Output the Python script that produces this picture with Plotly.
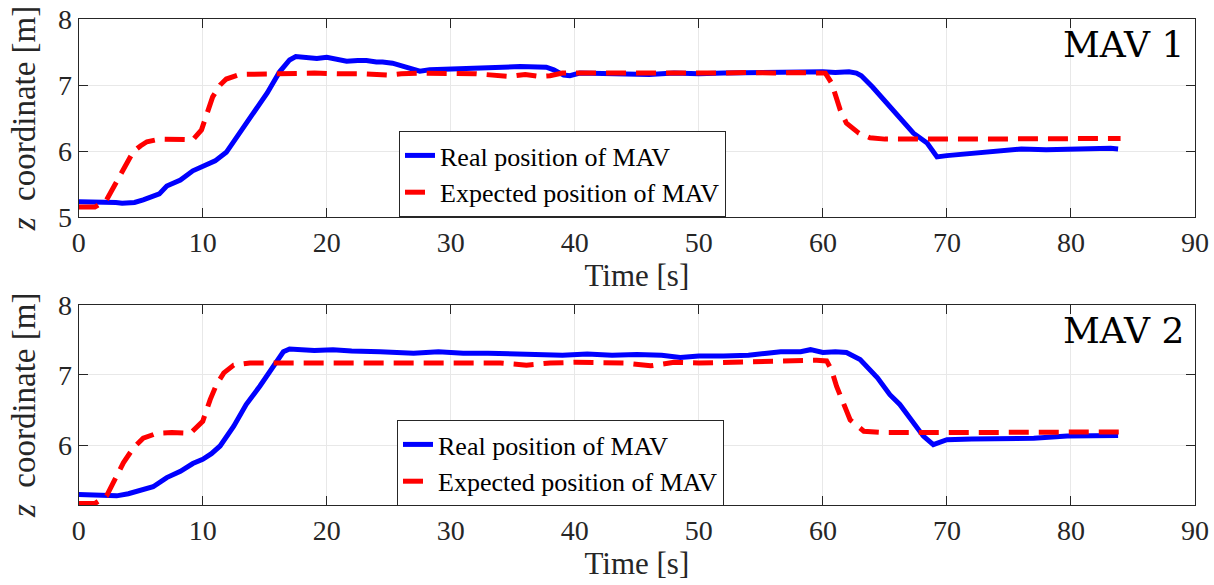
import plotly.graph_objects as go

# ---- MAV 1 ----
t_real_1 = [0, 1, 2, 3, 3.5, 4.5, 5.2, 6, 6.5, 7.1, 7.6, 8.2, 9.2, 10.3, 11, 11.9, 13, 14.1,
            15.2, 16.2, 17, 17.5, 18.4, 19.2, 20, 21, 21.6, 22.5, 23.2, 24, 24.5, 25.3, 26,
            26.7, 27.5, 28.3, 29.5, 30.5, 32.4, 34, 35.6, 37.7, 38.3, 39.1, 39.6, 40.4, 42,
            44, 46, 48, 50, 52, 54.4, 56, 58, 59, 60, 61, 61.6, 62.1, 62.7, 63.1, 64, 65.4,
            66.2, 67.3, 68.4, 69.2, 70, 71.6, 73, 74.8, 76, 78, 80, 82, 83.2, 83.8]
z_real_1 = [5.23, 5.23, 5.23, 5.22, 5.21, 5.22, 5.26, 5.31, 5.35, 5.47, 5.51, 5.56, 5.70, 5.79,
            5.85, 5.98, 6.27, 6.57, 6.88, 7.20, 7.38, 7.43, 7.41, 7.40, 7.42, 7.39, 7.36, 7.37,
            7.37, 7.35, 7.35, 7.33, 7.29, 7.24, 7.21, 7.23, 7.24, 7.25, 7.27, 7.27, 7.28, 7.27,
            7.23, 7.15, 7.14, 7.18, 7.17, 7.17, 7.16, 7.18, 7.17, 7.18, 7.19, 7.18, 7.19, 7.20,
            7.20, 7.19, 7.19, 7.20, 7.18, 7.14, 6.97, 6.67, 6.52, 6.27, 6.12, 5.91, 5.93, 5.96,
            5.99, 6.02, 6.03, 6.02, 6.03, 6.03, 6.04, 6.03]
t_exp_1 = [0, 1.3, 2.25, 3.06, 3.87, 4.4, 5.0, 5.5, 6.5, 7.5, 8.5, 9.2, 9.9, 10.3, 10.8, 11.4,
           11.9, 13, 15, 17, 19, 21, 23, 25, 26, 28, 30, 32, 34.8, 36, 37.2, 38, 39, 40, 42,
           44, 46, 48, 50, 52, 54, 56, 58, 60.2, 60.7, 61.4, 61.9, 62.9, 63.8, 65, 70, 75,
           80, 84]
z_exp_1 = [5.15, 5.15, 5.26, 5.53, 5.82, 5.99, 6.08, 6.14, 6.18, 6.18, 6.17, 6.17, 6.32, 6.57,
           6.82, 7.00, 7.09, 7.16, 7.17, 7.17, 7.18, 7.17, 7.17, 7.15, 7.17, 7.18, 7.18, 7.17,
           7.13, 7.16, 7.13, 7.14, 7.18, 7.18, 7.17, 7.17, 7.17, 7.17, 7.18, 7.18, 7.19, 7.18,
           7.19, 7.18, 7.03, 6.62, 6.42, 6.27, 6.20, 6.18, 6.18, 6.18, 6.18, 6.19]

# ---- MAV 2 ----
t_real_2 = [0, 1.5, 3.06, 4, 4.9, 6, 7.1, 8.2, 9.2, 10, 10.7, 11.4, 12.5, 13.5, 14.6, 15.7,
            16.5, 17, 18, 19, 20.5, 22, 24.3, 25.9, 27, 29, 31, 33, 35, 37.7, 39, 41, 43, 45,
            47, 48.5, 50, 52, 54, 55.5, 56.6, 58.2, 59, 60, 61, 61.9, 63, 64.4, 65.4, 66.2,
            67.3, 68.1, 68.9, 69.5, 70, 72, 74.3, 77, 79.7, 82, 83.8]
z_real_2 = [5.30, 5.29, 5.28, 5.31, 5.35, 5.41, 5.54, 5.63, 5.74, 5.80, 5.88, 5.99, 6.27, 6.58,
            6.84, 7.14, 7.33, 7.37, 7.36, 7.35, 7.36, 7.34, 7.33, 7.32, 7.31, 7.33, 7.31, 7.31,
            7.30, 7.29, 7.28, 7.30, 7.28, 7.29, 7.28, 7.25, 7.27, 7.27, 7.28, 7.31, 7.33, 7.33,
            7.36, 7.32, 7.33, 7.32, 7.22, 6.96, 6.72, 6.58, 6.32, 6.13, 6.01, 6.05, 6.08, 6.09,
            6.09, 6.10, 6.13, 6.13, 6.14]
t_exp_2 = [0, 1.3, 2.25, 2.8, 3.6, 4.4, 5.2, 6.3, 7.5, 9.0, 10, 10.6, 11.1, 11.7, 12.5, 13.8,
           16, 18, 20, 22, 24, 26, 28, 30, 32, 34, 36.1, 38, 40, 42, 44, 46.1, 48, 50, 52, 54,
           56, 58, 59.5, 60.3, 60.7, 61.1, 61.7, 62.2, 63.3, 65, 70, 75, 80, 84]
z_exp_2 = [5.17, 5.17, 5.28, 5.47, 5.75, 5.96, 6.10, 6.17, 6.18, 6.17, 6.34, 6.65, 6.86, 7.03,
           7.14, 7.17, 7.17, 7.18, 7.17, 7.18, 7.17, 7.18, 7.18, 7.17, 7.18, 7.17, 7.14, 7.17,
           7.18, 7.17, 7.17, 7.13, 7.18, 7.17, 7.18, 7.18, 7.19, 7.20, 7.21, 7.20, 7.07, 6.84,
           6.55, 6.36, 6.20, 6.18, 6.18, 6.18, 6.18, 6.19]

x_ticks = [0, 10, 20, 30, 40, 50, 60, 70, 80, 90]
y_ticks = [5, 6, 7, 8]
panel_labels = ["MAV 1", "MAV 2"]
names = ["Real position of MAV", "Expected position of MAV"]

SERIF = "Liberation Serif"
AX_COLOR = "#262626"
GRID = "#e8e8e8"
W, H = 1214, 585

fig = go.Figure()

panels = [
    (t_real_1, z_real_1, t_exp_1, z_exp_1, "x", "y", "legend"),
    (t_real_2, z_real_2, t_exp_2, z_exp_2, "x2", "y2", "legend2"),
]
for tr, zr, te, ze, xa, ya, lg in panels:
    fig.add_trace(go.Scatter(x=tr, y=zr, mode="lines", name=names[0],
                             line=dict(color="#0000ff", width=5),
                             xaxis=xa, yaxis=ya, legend=lg))
    fig.add_trace(go.Scatter(x=te, y=ze, mode="lines", name=names[1],
                             line=dict(color="#ff0000", width=5, dash="20px,10px"),
                             xaxis=xa, yaxis=ya, legend=lg))

x_dom = [78.7 / W, 1195 / W]
common_x = dict(range=[0, 90], tickvals=x_ticks, showgrid=True, gridcolor=GRID, gridwidth=1,
                showline=True, linecolor=AX_COLOR, linewidth=1, mirror="ticks",
                ticks="inside", ticklen=9, tickcolor=AX_COLOR, zeroline=False,
                automargin=False,
                tickfont=dict(family=SERIF, size=28, color=AX_COLOR),
                title=dict(text="Time [s]", font=dict(family=SERIF, size=31, color=AX_COLOR),
                           standoff=6),
                domain=x_dom)
common_y = dict(tickvals=y_ticks, showgrid=True, gridcolor=GRID, gridwidth=1,
                showline=True, linecolor=AX_COLOR, linewidth=1, mirror="ticks",
                ticks="inside", ticklen=9, tickcolor=AX_COLOR, zeroline=False,
                automargin=False,
                tickfont=dict(family=SERIF, size=28, color=AX_COLOR),
                title=dict(text="<i>z</i>  coordinate [m]",
                           font=dict(family=SERIF, size=33, color=AX_COLOR), standoff=12))

legend_style = dict(xanchor="left", yanchor="middle", bgcolor="white",
                    bordercolor="#262626", borderwidth=1, itemwidth=30, tracegroupgap=0,
                    font=dict(family=SERIF, size=26, color="black"))

fig.update_layout(
    width=W, height=H,
    margin=dict(l=0, r=0, t=0, b=0),
    paper_bgcolor="white", plot_bgcolor="white",
    xaxis=dict(common_x, anchor="y"),
    yaxis=dict(common_y, range=[5, 8], anchor="x", domain=[1 - 217 / H, 1 - 19 / H]),
    xaxis2=dict(common_x, anchor="y2"),
    yaxis2=dict(common_y, range=[5.15, 8], anchor="x2", domain=[1 - 505 / H, 1 - 304.7 / H]),
    legend=dict(legend_style, x=399 / W, y=1 - 174 / H),
    legend2=dict(legend_style, x=397 / W, y=1 - 463 / H),
    showlegend=True,
)

# panel labels in the upper-right corner of each axes
for label, xr, yr in zip(panel_labels, ["x domain", "x2 domain"], ["y domain", "y2 domain"]):
    fig.add_annotation(text=label, xref=xr, yref=yr, x=0.992, y=0.985,
                       xanchor="right", yanchor="top", showarrow=False,
                       font=dict(family="DejaVu Serif", size=36, color="black"))

fig.write_html("out.html")
